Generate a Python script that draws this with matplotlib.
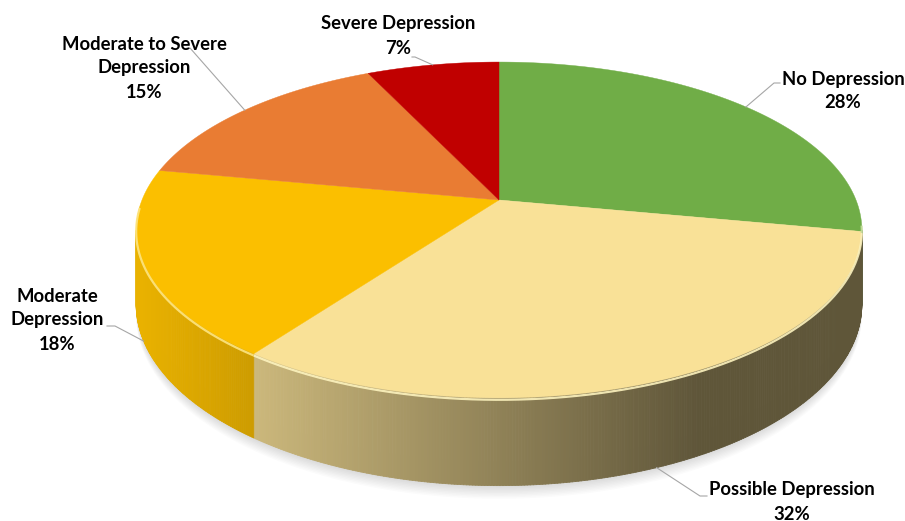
import numpy as np
import matplotlib
matplotlib.use("Agg")
import matplotlib.pyplot as plt
from matplotlib.collections import PolyCollection
from matplotlib.colors import to_rgb

# ---------------- data ----------------
categories = ["No Depression", "Possible Depression", "Moderate Depression",
              "Moderate to Severe Depression", "Severe Depression"]
values = [28, 32, 18, 15, 7]
label_texts = ["No Depression", "Possible Depression", "Moderate\nDepression",
               "Moderate to Severe\nDepression", "Severe Depression"]
colors = ["#70AD47", "#F9E197", "#FBBF00", "#E97C33", "#C00000"]

# ---------------- layout ----------------
W, Hpx = 905, 521
cx, cy = 499, 200          # pie centre in pixels
RX, RY = 357, 162.6        # projected radii
P = 0.1786                 # perspective factor
DEPTH = 72                 # wall thickness
label_pos = [(843, 91), (792, 502), (57, 320), (144, 68), (398, 36)]
elbows = [[(774, 83), (780, 83)], [(700, 496), (707, 496)],
          [(115, 326), (107, 326)], [(190, 48), (187, 48)],
          [(415, 57), (412, 57)]]

plt.rcParams['font.family'] = ['Lato', 'DejaVu Sans']

fig = plt.figure(figsize=(W / 100, Hpx / 100), dpi=100)
ax = fig.add_axes([0, 0, 1, 1])
ax.set_xlim(0, W)
ax.set_ylim(Hpx, 0)
ax.axis('off')


def proj(theta_deg, h=0.0):
    t = np.radians(theta_deg)
    u, v = np.cos(t), np.sin(t)
    w = 1 + v * P
    return cx + u * RX / w, cy - v * RY / w + h / w


def shade(x):
    return 0.93 - 0.55 * np.clip((x - 140) / 560.0, 0, 1)


total = float(sum(values))
bounds = []
cum = 0.0
for val in values:
    t0 = 90 - cum / total * 360
    cum += val
    t1 = 90 - cum / total * 360
    bounds.append((t0, t1))

# visible wall range (silhouette)
sil = np.degrees(np.arcsin(P))
vis_lo, vis_hi = -180 + sil, -sil

# ---------- soft shadow ----------
tt = np.linspace(vis_lo - 5, vis_hi + 5, 200)
for k in range(10):
    xs, ys = proj(tt, DEPTH + k * 1.2)
    xs0, ys0 = proj(tt[::-1], DEPTH - 20)
    ax.fill(np.concatenate([xs, xs0]), np.concatenate([ys, ys0]),
            color='#808080', alpha=0.03, lw=0, zorder=1)

# ---------- walls ----------
for (t0, t1), col in zip(bounds, colors):
    lo, hi = t1, t0
    for shift in (-360, 0, 360):
        a, b = max(lo + shift, vis_lo), min(hi + shift, vis_hi)
        if b <= a:
            continue
        n = max(2, int((b - a) / 0.4))
        th = np.linspace(a, b, n + 1)
        polys, fcs = [], []
        base = np.array(to_rgb(col))
        for i in range(n):
            x0, y0 = proj(th[i]); x1, y1 = proj(th[i + 1])
            x2, y2 = proj(th[i + 1], DEPTH); x3, y3 = proj(th[i], DEPTH)
            polys.append([(x0, y0), (x1, y1), (x2, y2), (x3, y3)])
            f = shade((x0 + x1) / 2)
            fcs.append(np.clip(base * f, 0, 1))
        pc = PolyCollection(polys, facecolors=fcs, edgecolors=fcs,
                            linewidths=0.6, zorder=2)
        ax.add_collection(pc)

# ---------- top faces ----------
for (t0, t1), col in zip(bounds, colors):
    th = np.linspace(t0, t1, 200)
    xs, ys = proj(th)
    ax.fill(np.concatenate([[cx], xs]), np.concatenate([[cy], ys]),
            color=col, lw=0.3, ec=col, zorder=3)

# ---------- bevel highlight ----------
for (t0, t1), col in zip(bounds, colors):
    for shift in (-360, 0, 360):
        a, b = max(t1 + shift, vis_lo - 8), min(t0 + shift, vis_hi + 2)
        if b <= a:
            continue
        th = np.linspace(a, b, 150)
        xs, ys = proj(th, 1.5)
        hl = np.array(to_rgb(col)) * 0.4 + 0.6 * np.array([1, 1, 0.85])
        ax.plot(xs, ys, color=np.clip(hl, 0, 1), lw=1.6, alpha=0.9, zorder=4,
                solid_capstyle='butt')

# ---------- labels ----------
for (t0, t1), txt, val, lp, el in zip(bounds, label_texts, values, label_pos, elbows):
    mid = (t0 + t1) / 2
    v = np.sin(np.radians(mid))
    ax_, ay_ = proj(mid, DEPTH if v < 0 else 0)
    xs = [ax_] + [e[0] for e in el]
    ys = [ay_] + [e[1] for e in el]
    ax.plot(xs, ys, color='#A6A6A6', lw=0.8, zorder=5)
    ax.text(lp[0], lp[1], f"{txt}\n{val}%", ha='center', va='center',
            fontsize=13.3, fontweight='bold', color='#000000',
            linespacing=1.5, zorder=6)

fig.savefig("out.png", dpi=100)
